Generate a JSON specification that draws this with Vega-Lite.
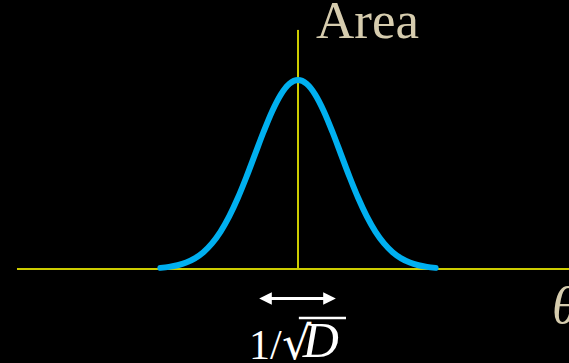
{
  "$schema": "https://vega.github.io/schema/vega-lite/v6.json",
  "width": 569,
  "height": 363,
  "autosize": {"type": "none"},
  "padding": 0,
  "background": "#000000",
  "config": {"view": {"stroke": null}},
  "encoding": {
    "x": {"field": "x", "type": "quantitative", "scale": {"domain": [-6.93, 6.302], "nice": false, "zero": false}, "axis": null},
    "y": {"field": "y", "type": "quantitative", "scale": {"domain": [-0.4974, 1.4233], "nice": false, "zero": false}, "axis": null}
  },
  "layer": [
    {
      "data": {"values": [
        {"x": -6.535, "x2": 6.302, "y": 0, "y2": 0},
        {"x": 0, "x2": 0, "y": 0, "y2": 1.265}
      ]},
      "mark": {"type": "rule", "color": "#cccc00", "strokeWidth": 2},
      "encoding": {"x2": {"field": "x2"}, "y2": {"field": "y2"}}
    },
    {
      "data": {"values": [
        {"x": -3.2, "y": 0.00598}, {"x": -3.0, "y": 0.01111}, {"x": -2.8, "y": 0.01984},
        {"x": -2.6, "y": 0.03405}, {"x": -2.4, "y": 0.05613}, {"x": -2.2, "y": 0.08892},
        {"x": -2.0, "y": 0.13534}, {"x": -1.8, "y": 0.1979}, {"x": -1.6, "y": 0.27804},
        {"x": -1.4, "y": 0.37531}, {"x": -1.2, "y": 0.48675}, {"x": -1.0, "y": 0.60653},
        {"x": -0.8, "y": 0.72615}, {"x": -0.6, "y": 0.83527}, {"x": -0.4, "y": 0.92312},
        {"x": -0.2, "y": 0.9802}, {"x": 0.0, "y": 1.0}, {"x": 0.2, "y": 0.9802},
        {"x": 0.4, "y": 0.92312}, {"x": 0.6, "y": 0.83527}, {"x": 0.8, "y": 0.72615},
        {"x": 1.0, "y": 0.60653}, {"x": 1.2, "y": 0.48675}, {"x": 1.4, "y": 0.37531},
        {"x": 1.6, "y": 0.27804}, {"x": 1.8, "y": 0.1979}, {"x": 2.0, "y": 0.13534},
        {"x": 2.2, "y": 0.08892}, {"x": 2.4, "y": 0.05613}, {"x": 2.6, "y": 0.03405},
        {"x": 2.8, "y": 0.01984}, {"x": 3.0, "y": 0.01111}, {"x": 3.2, "y": 0.00598}
      ]},
      "mark": {"type": "line", "color": "#00b0f0", "strokeWidth": 6, "strokeCap": "round", "strokeJoin": "round", "interpolate": "monotone"},
      "encoding": {"order": {"field": "x"}}
    },
    {
      "data": {"values": [{"x": -0.75, "x2": 0.73, "y": -0.156}]},
      "mark": {"type": "rule", "color": "#ffffff", "strokeWidth": 3},
      "encoding": {"x2": {"field": "x2"}}
    },
    {
      "data": {"values": [
        {"x": -0.756, "y": -0.156, "dir": "left"},
        {"x": 0.733, "y": -0.156, "dir": "right"}
      ]},
      "mark": {"type": "point", "filled": true, "color": "#ffffff", "opacity": 1, "size": 160},
      "encoding": {
        "shape": {"field": "dir", "type": "nominal", "legend": null,
          "scale": {"domain": ["left", "right"], "range": ["M -1 0 L 1 -1 L 1 1 Z", "M 1 0 L -1 -1 L -1 1 Z"]}}
      }
    },
    {
      "data": {"values": [{"x": 0.02, "x2": 1.116, "y": -0.259}]},
      "mark": {"type": "rule", "color": "#ffffff", "strokeWidth": 2.5},
      "encoding": {"x2": {"field": "x2"}}
    },
    {
      "data": {"values": [{"x": -1.14, "y": -0.476, "label": "1/"}]},
      "mark": {"type": "text", "font": "Liberation Serif", "fontSize": 42, "color": "#ffffff", "align": "left", "baseline": "alphabetic"},
      "encoding": {"text": {"field": "label"}}
    },
    {
      "data": {"values": [{"x": -0.372, "y": -0.476, "label": "√"}]},
      "mark": {"type": "text", "font": "DejaVu Sans", "fontSize": 46, "color": "#ffffff", "align": "left", "baseline": "alphabetic"},
      "encoding": {"text": {"field": "label"}}
    },
    {
      "data": {"values": [{"x": 0.11, "y": -0.466, "label": "D"}]},
      "mark": {"type": "text", "font": "Liberation Serif", "fontStyle": "italic", "fontSize": 50, "color": "#ffffff", "align": "left", "baseline": "alphabetic"},
      "encoding": {"text": {"field": "label"}}
    },
    {
      "data": {"values": [{"x": 0.419, "y": 1.222, "label": "Area"}]},
      "mark": {"type": "text", "font": "Liberation Serif", "fontSize": 53, "color": "#d6ccae", "align": "left", "baseline": "alphabetic"},
      "encoding": {"text": {"field": "label"}}
    },
    {
      "data": {"values": [{"x": 5.907, "y": -0.286, "label": "θ"}]},
      "mark": {"type": "text", "font": "Liberation Serif", "fontStyle": "italic", "fontSize": 52, "color": "#d6ccae", "align": "left", "baseline": "alphabetic"},
      "encoding": {"text": {"field": "label"}}
    }
  ]
}
